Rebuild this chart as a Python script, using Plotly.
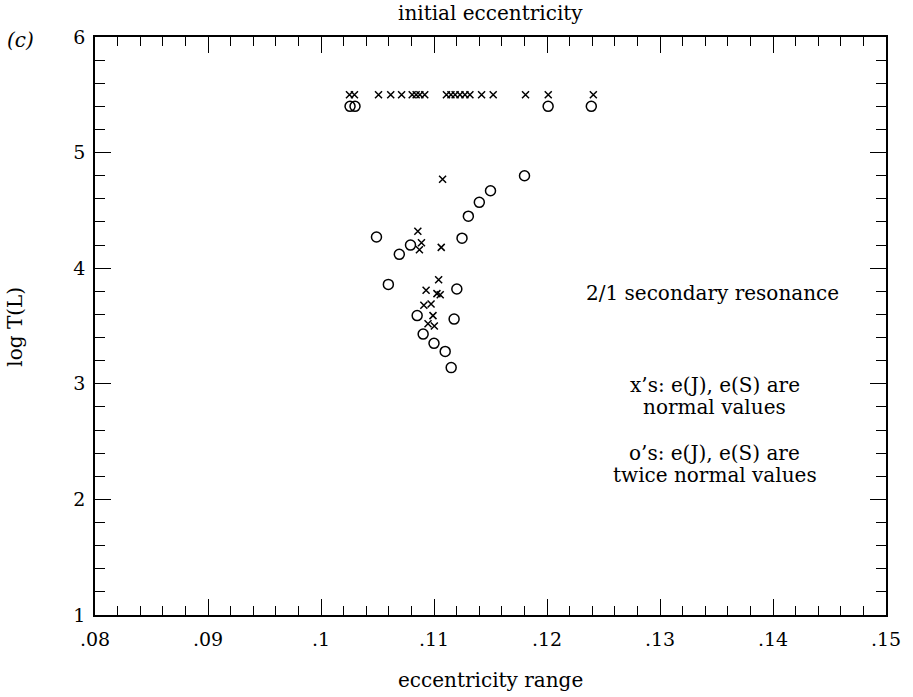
import plotly.graph_objects as go

# x's: e(J), e(S) normal values
x_cross = [0.10252, 0.10296, 0.10509, 0.10617, 0.10713, 0.10807, 0.10842, 0.10875, 0.10918,
           0.1111, 0.1115, 0.11187, 0.1123, 0.11274, 0.11318, 0.11421, 0.11524, 0.1181, 0.12011, 0.1241,
           0.11076, 0.10857, 0.10889, 0.10871, 0.11064, 0.11041, 0.1093, 0.11026, 0.11055,
           0.1091, 0.10974, 0.10991, 0.10947, 0.11003]
y_cross = [5.5, 5.5, 5.5, 5.5, 5.5, 5.5, 5.5, 5.5, 5.5,
           5.5, 5.5, 5.5, 5.5, 5.5, 5.5, 5.5, 5.5, 5.5, 5.5, 5.5,
           4.77, 4.32, 4.22, 4.16, 4.18, 3.90, 3.81, 3.78, 3.77,
           3.68, 3.69, 3.59, 3.52, 3.50]

# o's: e(J), e(S) twice normal values
x_circ = [0.10257, 0.10301, 0.1201, 0.12392,
          0.11801, 0.115, 0.11401, 0.11304, 0.10491, 0.11248, 0.10792, 0.10693, 0.10596,
          0.11202, 0.10851, 0.11178, 0.10904, 0.11, 0.11099, 0.11152]
y_circ = [5.4, 5.4, 5.4, 5.4,
          4.80, 4.67, 4.57, 4.45, 4.27, 4.26, 4.20, 4.12, 3.86,
          3.82, 3.59, 3.56, 3.43, 3.35, 3.28, 3.14]

x_ticks = [0.08, 0.09, 0.10, 0.11, 0.12, 0.13, 0.14, 0.15]
x_ticktext = [".08", ".09", ".1", ".11", ".12", ".13", ".14", ".15"]
y_ticks = [1, 2, 3, 4, 5, 6]

FONT = "DejaVu Serif"

fig = go.Figure()
fig.add_trace(go.Scatter(x=x_cross, y=y_cross, mode="markers",
                         marker=dict(symbol="x-thin", size=7, line=dict(color="black", width=1.5)),
                         showlegend=False))
fig.add_trace(go.Scatter(x=x_circ, y=y_circ, mode="markers",
                         marker=dict(symbol="circle-open", size=10, color="black", line=dict(color="black", width=1.5)),
                         showlegend=False))

axis_common = dict(showline=True, linecolor="black", linewidth=1.5, mirror="ticks",
                   ticks="inside", tickcolor="black", tickwidth=1.3, showgrid=False, zeroline=False,
                   tickfont=dict(family=FONT, size=19, color="black"))

fig.update_xaxes(range=[0.08, 0.15], tickvals=x_ticks, ticktext=x_ticktext, ticklen=16,
                 ticklabelstandoff=6,
                 minor=dict(dtick=0.002, ticks="inside", ticklen=9, tickcolor="black", tickwidth=1.3, showgrid=False),
                 **axis_common)
fig.update_yaxes(range=[1, 6], tickvals=y_ticks, ticklen=16, ticklabelstandoff=4,
                 minor=dict(dtick=0.2, ticks="inside", ticklen=10, tickcolor="black", tickwidth=1.3, showgrid=False),
                 **axis_common)

tfont = dict(family=FONT, size=20, color="black")
ann = [
    dict(text="initial eccentricity", x=494, y=13),
    dict(text="eccentricity range", x=494, y=680),
    dict(text="2/1 secondary resonance", x=718, y=293),
    dict(text="x’s: e(J), e(S) are", x=720, y=385),
    dict(text="normal values", x=720, y=407),
    dict(text="o’s: e(J), e(S) are", x=720, y=453),
    dict(text="twice normal values", x=720, y=475),
]
annotations = []
for a in ann:
    annotations.append(dict(text=a["text"], x=a["x"] / 913, y=1 - a["y"] / 697, xref="paper", yref="paper",
                            showarrow=False, font=tfont, xanchor="center", yanchor="middle"))
annotations.append(dict(text="<i>(c)</i>", x=20 / 913, y=1 - 40 / 697, xref="paper", yref="paper",
                        showarrow=False, font=tfont, xanchor="center", yanchor="middle"))
annotations.append(dict(text="log T(L)", x=14 / 913, y=1 - 327 / 697, xref="paper", yref="paper",
                        showarrow=False, font=tfont, textangle=-90, xanchor="center", yanchor="middle"))

# convert paper coords relative to the plot area
L, R, T, B = 95, 20, 37, 82
pw, ph = 913 - L - R, 697 - T - B
for a in annotations:
    px = a["x"] * 913
    py = (1 - a["y"]) * 697
    a["x"] = (px - L) / pw
    a["y"] = 1 - (py - T) / ph

fig.update_layout(width=913, height=697, margin=dict(l=L, r=R, t=T, b=B),
                  paper_bgcolor="white", plot_bgcolor="white", annotations=annotations)

fig.write_html("out.html")
